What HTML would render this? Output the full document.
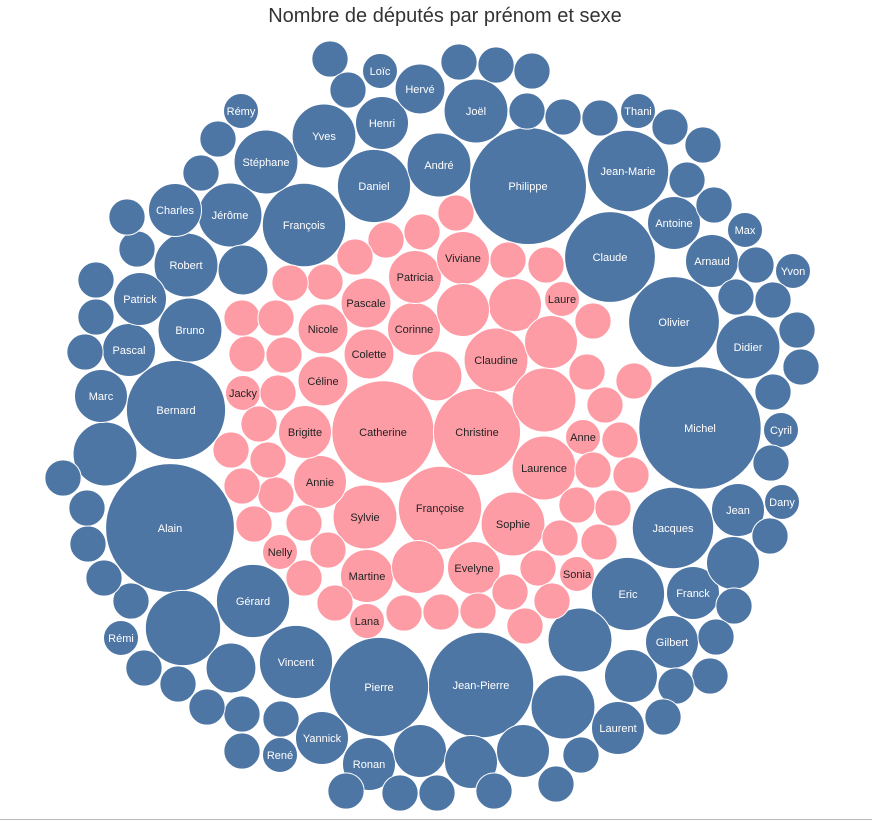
<!DOCTYPE html>
<html><head><meta charset="utf-8">
<style>
html,body{margin:0;padding:0;background:#fff;}
body{width:872px;height:823px;overflow:hidden;position:relative;font-family:"Liberation Sans",sans-serif;}
#title{position:absolute;left:0;width:890px;top:5px;text-align:center;font-size:20px;color:#333;}
#base{position:absolute;left:0;top:819px;width:872px;height:1px;background:#bbb;}
</style></head><body>
<div id="title">Nombre de députés par prénom et sexe</div>
<svg id="chart" width="872" height="823" style="position:absolute;left:0;top:0"></svg>
<div id="base"></div>
<script>
// Blue (male) names, counts (députés), layout centre
const maleNames=["Philippe","Michel","Alain","Jean-Pierre","Pierre","Bernard","Olivier","Claude","François","Jean-Marie","Jacques","Eric","Gérard","Vincent","Daniel","","","","Stéphane","Robert","Didier","Bruno","Jérôme","André","Yves","Joël","Antoine","Arnaud","Franck","Gilbert","Laurent","Jean","","Marc","Pascal","Patrick","Charles","Henri","Hervé","","Yannick","Ronan","","","","","","","Cyril","Dany","Yvon","Max","Thani","Rémy","Loïc","Rémi","René"];
const maleCounts=[43,47,52,35,31,31,26,26,22,21,21,17,17,17,17,18,13,13,13,13,13,13,13,13,13,13,9,9,9,9,9,9,13,9,9,9,9,9,8,8,9,9,9,9,9,9,9,8,4,4,4,4,4,4,4,4,4];
const maleX=[528,700,170,481,379,176,674,610,304,628,673,628,253,296,374,183,563,580,266,186,748,190,230,439,324,476,674,712,693,672,618,738,105,101,129,140,175,382,420,243,322,369,420,471,523,733,631,231,781,782,793,745,638,241,380,121,280];
const maleY=[186,428,528,685,687,410,322,257,225,171,528,594,601,662,186,628,707,640,162,265,347,330,215,165,136,111,223,261,593,642,728,510,454,396,350,299,210,123,89,270,738,764,751,762,751,563,676,668,430,502,271,230,111,111,71,638,755];
// small unlabeled male bubbles (count 4 each)
const smallMaleX=[330,348,459,496,532,527,563,600,670,703,687,714,756,736,773,797,801,773,771,770,734,716,710,676,663,581,556,494,437,400,346,242,281,242,207,178,144,131,104,88,87,63,85,96,96,137,127,201,218];
const smallMaleY=[59,90,62,65,71,111,117,118,127,145,180,205,265,297,300,330,367,392,463,536,606,637,676,686,717,755,784,791,793,793,791,751,719,714,707,684,668,601,578,544,508,478,352,317,280,249,217,173,139];
const smallMaleCounts=smallMaleX.map(()=>4.3);

const femaleNames=["Catherine","Christine","Françoise","Claudine","Laurence","Sophie","Sylvie","Annie","Brigitte","Martine","Evelyne","Corinne","Patricia","Viviane","Pascale","Colette","Nicole","Céline","","","","","","","Laure","Anne","Sonia","Nelly","Jacky","Lana"];
const femaleCounts=[33,24,22,13,13,13,13,9,9,9,9,9,9,9,8,8,8,8,13,9,9,8,9,9,4,4,4,4,4,4];
const femaleX=[383,477,440,496,544,513,365,320,305,367,474,414,415,463,366,369,323,323,544,515,463,437,551,418,562,583,577,280,243,367];
const femaleY=[432,432,508,360,468,524,517,482,432,576,568,329,277,258,303,354,329,381,400,305,310,376,342,567,299,437,574,552,393,621];
const smallFemX=[456,422,386,355,325,290,508,546,593,587,634,605,620,593,631,577,613,599,560,538,552,525,510,478,441,404,335,304,328,254,276,304,242,268,231,259,278,247,284,242,276];
const smallFemY=[213,232,240,257,282,283,260,265,321,372,381,405,440,470,475,505,508,542,538,568,601,626,592,611,612,613,603,578,550,524,495,523,486,460,450,424,393,354,355,318,318];
const smallFemCounts=smallFemX.map(()=>4.3);

const svg=document.getElementById('chart');
const NS='http://www.w3.org/2000/svg';
const rScale=v=>9*Math.sqrt(v);
function draw(names,counts,xs,ys,fill,textFill,prefix){
  for(let i=0;i<counts.length;i++){
    const c=document.createElementNS(NS,'circle');
    c.setAttribute('cx',xs[i]);c.setAttribute('cy',ys[i]);
    c.setAttribute('r',Math.max(rScale(counts[i])-0.5,1));
    c.setAttribute('fill',fill);c.setAttribute('stroke','#fff');c.setAttribute('stroke-width','1');
    
    
    svg.appendChild(c);
    if(names[i]){
      const t=document.createElementNS(NS,'text');
      t.setAttribute('x',xs[i]);t.setAttribute('y',ys[i]+4);
      t.setAttribute('text-anchor','middle');t.setAttribute('font-size','11');
      t.setAttribute('font-family','Liberation Sans, sans-serif');
      t.setAttribute('fill',textFill);t.textContent=names[i];
      
      
      svg.appendChild(t);
    }
  }
}
const blue='#4e76a4',pink='#fe9ca6';
draw(maleNames,maleCounts,maleX,maleY,blue,'#fff','m');
draw(smallMaleX.map(()=>""),smallMaleCounts,smallMaleX,smallMaleY,blue,'#fff','m-small');
draw(femaleNames,femaleCounts,femaleX,femaleY,pink,'#222','f');
draw(smallFemX.map(()=>""),smallFemCounts,smallFemX,smallFemY,pink,'#222','f-small');
</script>
</body></html>
